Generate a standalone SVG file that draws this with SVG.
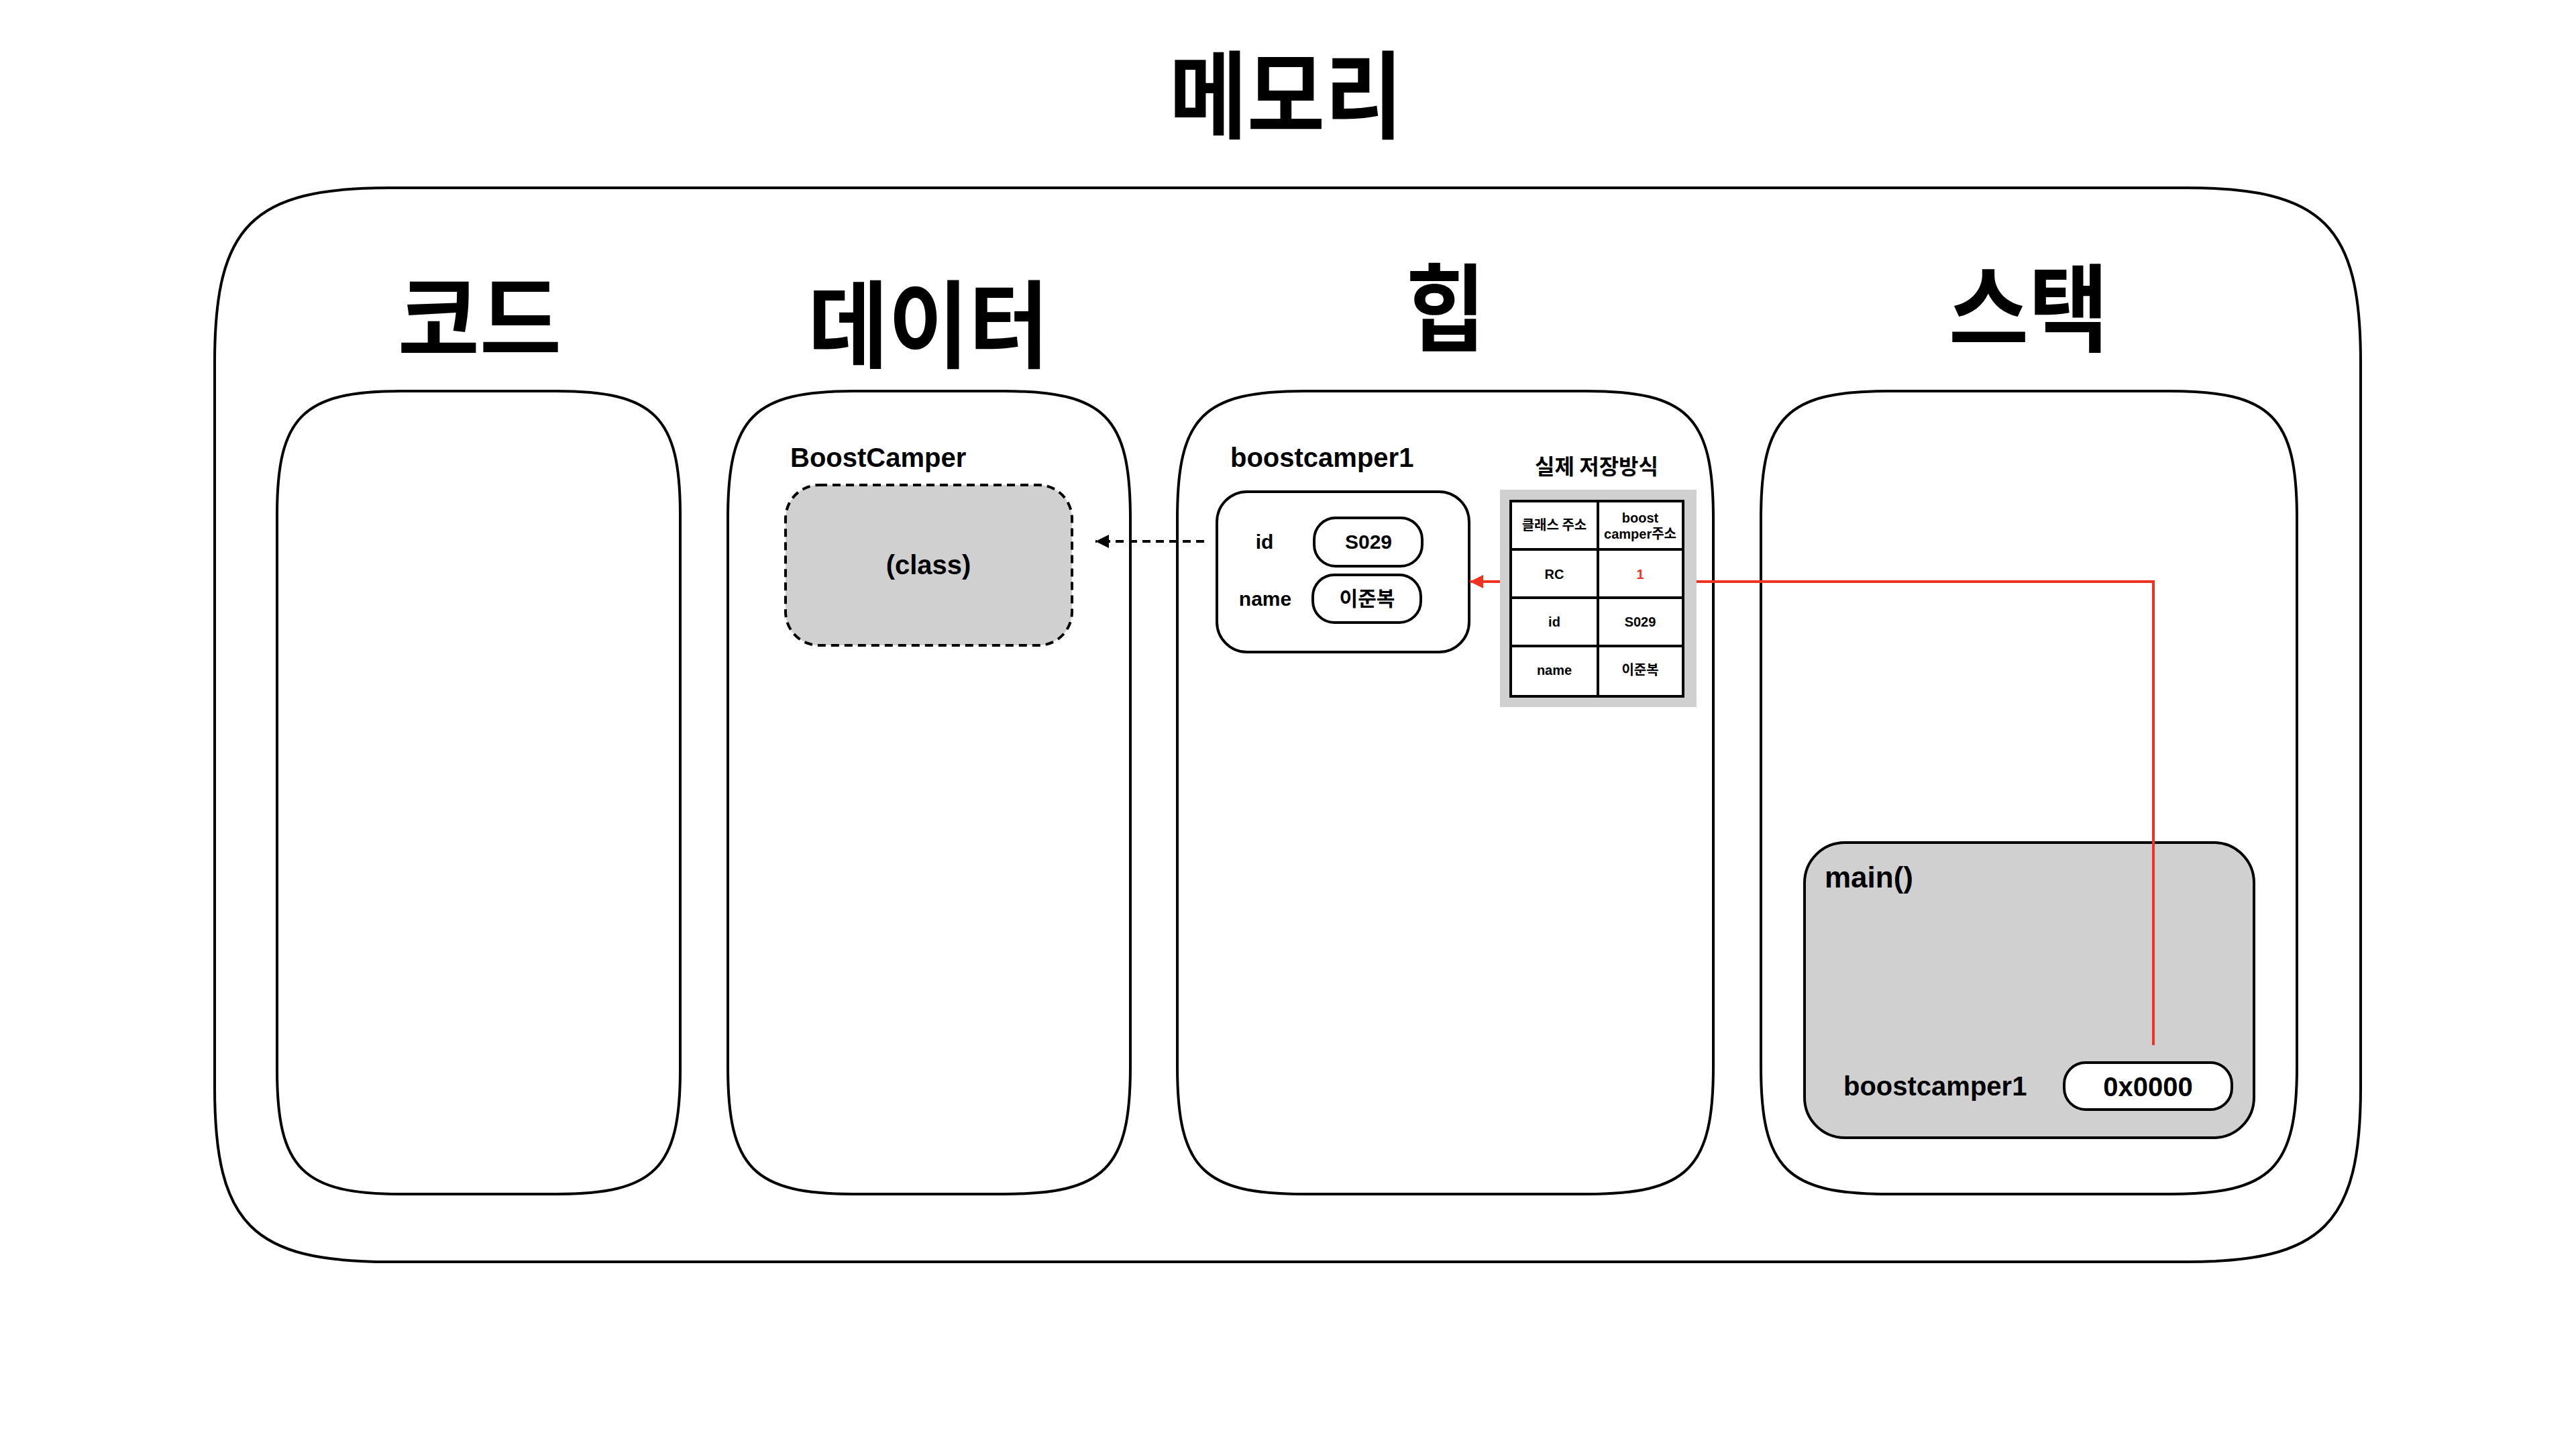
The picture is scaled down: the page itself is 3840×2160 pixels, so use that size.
<svg xmlns="http://www.w3.org/2000/svg" width="3840" height="2160" viewBox="0 0 3840 2160">
<defs>
<style>
.t{font-family:'Liberation Sans','Noto Sans CJK KR',sans-serif;font-weight:bold;fill:#000}
.k{font-family:'Noto Sans CJK KR','Liberation Sans',sans-serif;font-weight:bold;fill:#000}
.ttl{font-family:'Noto Sans CJK KR',sans-serif;font-weight:bold;font-size:142px;fill:#000}
.frame{fill:#fff;stroke:#000;stroke-width:4}
.box{fill:#fff;stroke:#000;stroke-width:4}
.gray{fill:#d0d0d0;stroke:#000;stroke-width:4}
.cell{fill:#fff;stroke:#000;stroke-width:4}
</style>
<marker id="ab" viewBox="0 0 20 20" refX="20" refY="10" markerWidth="22" markerHeight="20" markerUnits="userSpaceOnUse" orient="auto"><path d="M0,0 L20,10 L0,20 Z" fill="#000"/></marker>
<marker id="ar" viewBox="0 0 20 20" refX="20" refY="10" markerWidth="22" markerHeight="20" markerUnits="userSpaceOnUse" orient="auto"><path d="M0,0 L20,10 L0,20 Z" fill="#EE3323"/></marker>
</defs>
<rect width="3840" height="2160" fill="#fff"/>
<g id="memory">
<path class="frame" d="M320,540 C320,336 376,280 580,280 L3259,280 C3463,280 3519,336 3519,540 L3519,1621 C3519,1825 3463,1881 3259,1881 L580,1881 C376,1881 320,1825 320,1621 Z"/>
<text class="ttl" x="1917" y="195" text-anchor="middle" textLength="348" lengthAdjust="spacingAndGlyphs">메모리</text>
</g>
<g id="code">
<path class="frame" d="M413,768 C413,621 451,583 598,583 L829,583 C976,583 1014,621 1014,768 L1014,1595 C1014,1742 976,1780 829,1780 L598,1780 C451,1780 413,1742 413,1595 Z"/>
<text class="ttl" x="715" y="528" text-anchor="middle" textLength="244" lengthAdjust="spacingAndGlyphs">코드</text>
</g>
<g id="data">
<path class="frame" d="M1085,773 C1085,621 1123,583 1275,583 L1495,583 C1647,583 1685,621 1685,773 L1685,1590 C1685,1742 1647,1780 1495,1780 L1275,1780 C1123,1780 1085,1742 1085,1590 Z"/>
<text class="ttl" x="1384" y="537" text-anchor="middle" textLength="359" lengthAdjust="spacingAndGlyphs">데이터</text>
<text class="t" x="1178" y="696" font-size="40">BoostCamper</text>
</g>
<g id="heap">
<path class="frame" d="M1755,773 C1755,621 1793,583 1945,583 L2364,583 C2516,583 2554,621 2554,773 L2554,1590 C2554,1742 2516,1780 2364,1780 L1945,1780 C1793,1780 1755,1742 1755,1590 Z"/>
<text class="ttl" x="2155" y="512" text-anchor="middle" textLength="119" lengthAdjust="spacingAndGlyphs">힙</text>
<text class="t" x="1834" y="696" font-size="40">boostcamper1</text>
<text class="k" x="2380" y="707" font-size="32" text-anchor="middle">실제 저장방식</text>
</g>
<g id="stack">
<path class="frame" d="M2625,773 C2625,621 2663,583 2815,583 L3234,583 C3386,583 3424,621 3424,773 L3424,1590 C3424,1742 3386,1780 3234,1780 L2815,1780 C2663,1780 2625,1742 2625,1590 Z"/>
<text class="ttl" x="3024" y="513" text-anchor="middle" textLength="238" lengthAdjust="spacingAndGlyphs">스택</text>
</g>
<g id="class-box">
<rect x="1171" y="723" width="427" height="239" rx="50" fill="#d0d0d0" stroke="#000" stroke-width="4" stroke-dasharray="12 8"/>
<text class="t" x="1384" y="856" font-size="40" text-anchor="middle">(class)</text>
</g>
<g id="object-box">
<rect class="box" x="1814" y="733" width="376" height="239" rx="45"/>
<text class="t" x="1885" y="818" font-size="30" text-anchor="middle">id</text>
<text class="t" x="1886" y="903" font-size="30" text-anchor="middle">name</text>
</g>
<g id="id-value">
<rect class="box" x="1959" y="772" width="161" height="72" rx="32"/>
<text class="t" x="2040" y="818" font-size="30" text-anchor="middle">S029</text>
</g>
<g id="name-value">
<rect class="box" x="1957" y="857" width="161" height="71" rx="32"/>
<text class="k" x="2038" y="903" font-size="30" text-anchor="middle">이준복</text>
</g>
<g id="main-frame">
<rect class="gray" x="2690" y="1256" width="670" height="440" rx="60"/>
<text class="t" x="2720" y="1323" font-size="44">main()</text>
<text class="t" x="2748" y="1633" font-size="40">boostcamper1</text>
</g>
<g id="ref-value">
<rect class="box" x="3077" y="1584" width="250" height="70" rx="32"/>
<text class="t" x="3202" y="1634" font-size="40" text-anchor="middle">0x0000</text>
</g>
<g id="connectors">
<path d="M1795,807 L1633,807" fill="none" stroke="#000" stroke-width="4" stroke-dasharray="12 8" marker-end="url(#ab)"/>
<path d="M3210,1558 L3210,867 L2191,867" fill="none" stroke="#EE3323" stroke-width="4" marker-end="url(#ar)"/>
</g>
<g id="storage-table">
<rect x="2236" y="730" width="293" height="324" fill="#d0d0d0"/>
<rect class="cell" x="2252" y="747" width="130" height="72"/>
<rect class="cell" x="2382" y="747" width="127" height="72"/>
<rect class="cell" x="2252" y="819" width="130" height="72"/>
<rect class="cell" x="2382" y="819" width="127" height="72"/>
<rect class="cell" x="2252" y="891" width="130" height="72"/>
<rect class="cell" x="2382" y="891" width="127" height="72"/>
<rect class="cell" x="2252" y="963" width="130" height="75"/>
<rect class="cell" x="2382" y="963" width="127" height="75"/>
<text class="k" x="2317" y="790" font-size="20" text-anchor="middle">클래스 주소</text>
<text class="t" x="2445" y="779" font-size="20" text-anchor="middle">boost</text>
<text class="t" x="2445" y="803" font-size="20" text-anchor="middle">camper주소</text>
<text class="t" x="2317" y="863" font-size="20" text-anchor="middle">RC</text>
<text class="t" x="2445" y="863" font-size="20" text-anchor="middle" style="fill:#EE3323">1</text>
<text class="t" x="2317" y="934" font-size="20" text-anchor="middle">id</text>
<text class="t" x="2445" y="934" font-size="20" text-anchor="middle">S029</text>
<text class="t" x="2317" y="1006" font-size="20" text-anchor="middle">name</text>
<text class="k" x="2445" y="1006" font-size="20" text-anchor="middle">이준복</text>
</g>
</svg>
